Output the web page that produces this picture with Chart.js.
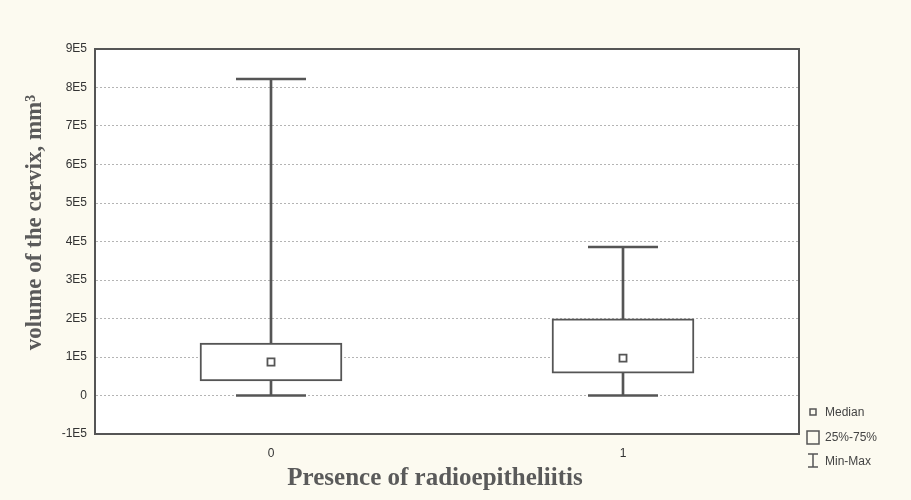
<!DOCTYPE html>
<html>
<head>
<meta charset="utf-8">
<script src="https://cdn.jsdelivr.net/npm/chart.js@4/dist/chart.umd.min.js"></script>
<style>
  html, body { margin: 0; padding: 0; background: #fcfaf0; }
  #wrap { position: relative; width: 911px; height: 500px; }
</style>
</head>
<body>
<div id="wrap"><canvas id="c" width="911" height="500"></canvas></div>
<script>
// Groups and box-plot statistics (volume, mm^3)
const categories = ['0', '1'];
const minValues    = [0, 0];
const q1Values     = [38000, 58000];
const medianValues = [87000, 97000];
const q3Values     = [136000, 199000];
const maxValues    = [822000, 386000];

// Value-axis ticks
const yTickValues = [-100000, 0, 100000, 200000, 300000, 400000, 500000, 600000, 700000, 800000, 900000];
const yTickLabels = ['-1E5', '0', '1E5', '2E5', '3E5', '4E5', '5E5', '6E5', '7E5', '8E5', '9E5'];

// Axis titles
const xTitle = 'Presence of radioepitheliitis';
const yTitle = 'volume of the cervix, mm³';

const INK = '#555555';
const SERIF = '"Liberation Serif", "Times New Roman", serif';
const SANS = '"Liberation Sans", Arial, sans-serif';

// White plot area with a full frame around it
const framePlugin = {
  id: 'frame',
  beforeDraw(chart) {
    const { ctx, chartArea: a } = chart;
    ctx.save();
    ctx.fillStyle = '#ffffff';
    ctx.fillRect(a.left, a.top, a.right - a.left, a.bottom - a.top);
    ctx.restore();
  },
  afterDraw(chart) {
    const { ctx, chartArea: a } = chart;
    ctx.save();
    ctx.strokeStyle = INK;
    ctx.lineWidth = 2;
    ctx.setLineDash([]);
    ctx.strokeRect(a.left, a.top, a.right - a.left, a.bottom - a.top);
    ctx.restore();
  }
};

// Axis titles, set slightly off the axis centres
const titlePlugin = {
  id: 'axisTitles',
  afterDraw(chart) {
    const { ctx, chartArea: a } = chart;
    ctx.save();
    ctx.fillStyle = '#5a5a5a';
    ctx.textAlign = 'center';
    ctx.textBaseline = 'middle';
    ctx.font = 'bold 25px ' + SERIF;
    ctx.fillText(xTitle, (a.left + a.right) / 2 - 12, 479);
    ctx.translate(35, (a.top + a.bottom) / 2 - 19);
    ctx.rotate(-Math.PI / 2);
    ctx.font = 'bold 23px ' + SERIF;
    ctx.fillText(yTitle, 0, 0);
    ctx.restore();
  }
};

// Key for median, box and whiskers, placed beside the lower right corner
const keyPlugin = {
  id: 'boxKey',
  afterDraw(chart) {
    const { ctx, chartArea: a } = chart;
    const x = a.right + 14;
    ctx.save();
    ctx.strokeStyle = INK;
    ctx.fillStyle = '#ffffff';
    ctx.lineWidth = 1.5;
    ctx.strokeRect(x - 3, 409, 6, 6);
    ctx.strokeRect(x - 6, 431, 12, 13);
    ctx.beginPath();
    ctx.moveTo(x - 5, 454); ctx.lineTo(x + 5, 454);
    ctx.moveTo(x, 454); ctx.lineTo(x, 467);
    ctx.moveTo(x - 5, 467); ctx.lineTo(x + 5, 467);
    ctx.stroke();
    ctx.fillStyle = '#444';
    ctx.font = '12px ' + SANS;
    ctx.textBaseline = 'middle';
    ctx.fillText('Median', x + 12, 413);
    ctx.fillText('25%-75%', x + 12, 438);
    ctx.fillText('Min-Max', x + 12, 462);
    ctx.restore();
  }
};

const boxRanges   = categories.map((_, i) => [q1Values[i], q3Values[i]]);
const upperRanges = categories.map((_, i) => [q3Values[i], maxValues[i]]);
const lowerRanges = categories.map((_, i) => [minValues[i], q1Values[i]]);

new Chart(document.getElementById('c'), {
  type: 'bar',
  data: {
    labels: categories,
    datasets: [
      { label: 'upper', data: upperRanges, backgroundColor: INK, borderWidth: 0, barThickness: 2, grouped: false, order: 3 },
      { label: 'lower', data: lowerRanges, backgroundColor: INK, borderWidth: 0, barThickness: 2, grouped: false, order: 3 },
      { label: '25%-75%', data: boxRanges, backgroundColor: '#ffffff', borderColor: INK, borderWidth: 2,
        borderSkipped: false, barThickness: 142, grouped: false, order: 2 },
      { type: 'line', label: 'Max', data: maxValues, showLine: false, pointStyle: 'line', pointRadius: 35,
        borderColor: INK, pointBorderWidth: 2.5, order: 1 },
      { type: 'line', label: 'Min', data: minValues, showLine: false, pointStyle: 'line', pointRadius: 35,
        borderColor: INK, pointBorderWidth: 2.5, order: 1 },
      { type: 'line', label: 'Median', data: medianValues, showLine: false, pointStyle: 'rect', pointRadius: 5,
        pointBackgroundColor: '#ffffff', borderColor: INK, pointBorderWidth: 1.8, order: 0 }
    ]
  },
  options: {
    responsive: false,
    animation: false,
    events: [],
    layout: { padding: { top: 49, right: 112, left: 0, bottom: 0 } },
    plugins: { legend: { display: false }, tooltip: { enabled: false } },
    scales: {
      x: {
        offset: true,
        grid: { display: false, drawTicks: false },
        border: { display: true, color: INK, width: 2 },
        ticks: { color: '#333', padding: 12, font: { family: SANS, size: 12 } },
        afterFit(scale) { scale.height = 66; }
      },
      y: {
        min: -100000,
        max: 900000,
        afterBuildTicks(scale) { scale.ticks = yTickValues.map(v => ({ value: v })); },
        ticks: {
          color: '#333', padding: 8,
          font: { family: SANS, size: 12 },
          callback: (v) => yTickLabels[yTickValues.indexOf(v)]
        },
        grid: { color: '#b4b4b4', drawTicks: false, lineWidth: 1 },
        border: { display: true, color: INK, width: 2, dash: [2, 2] },
        afterFit(scale) { scale.width = 95; }
      }
    }
  },
  plugins: [framePlugin, titlePlugin, keyPlugin]
});
</script>
</body>
</html>
